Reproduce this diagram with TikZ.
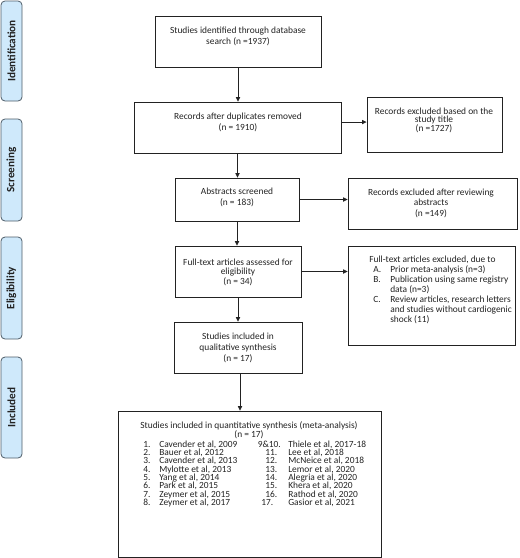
\documentclass[tikz,border=0pt]{standalone}
\usepackage{fontspec}
\setmainfont{Carlito}
\usetikzlibrary{arrows.meta,calc}
\definecolor{barfill}{HTML}{CFE9FB}
\definecolor{barline}{HTML}{4F5D68}
\definecolor{ink}{HTML}{222222}
\begin{document}
\begin{tikzpicture}[x=0.75pt,y=-0.75pt,
  box/.style={draw=ink,line width=0.6pt,inner sep=0pt},
  bar/.style={draw=barline,fill=barfill,rounded corners=3pt,line width=0.6pt,inner sep=0pt},
  bartxt/.style={rotate=90,font=\fontsize{8.4pt}{10pt}\selectfont\bfseries,text=ink,inner sep=0pt},
  txt/.style={font=\fontsize{7.05pt}{#1}\selectfont,align=center,inner sep=0pt,text=ink},
  txt/.default=8.25pt,
  ltxt/.style={font=\fontsize{7.05pt}{8.25pt}\selectfont,inner sep=0pt,anchor=base west,text=ink},
  arr/.style={draw=ink,line width=0.6pt,-{Triangle[length=3.4pt,width=3.2pt]}}
]
\useasboundingbox (0,0) rectangle (520,558);

% side bars
\node[bar,minimum width=21*0.75pt,minimum height=100*0.75pt] (id) at (11.5,51) {};
\node[bar,minimum width=21*0.75pt,minimum height=102*0.75pt] (sc) at (11.5,170) {};
\node[bar,minimum width=21*0.75pt,minimum height=102*0.75pt] (el) at (11.5,288) {};
\node[bar,minimum width=21*0.75pt,minimum height=101*0.75pt] (in) at (11.5,407.5) {};
\node[bartxt] (idt) at (id) {Identification};
\node[bartxt] (sct) at (sc) {Screening};
\node[bartxt] (elt) at (el) {Eligibility};
\node[bartxt] (int) at (in) {Included};

% boxes
\node[box,minimum width=166*0.75pt,minimum height=51*0.75pt] (b1) at (238,41.5) {};
\node[box,minimum width=207*0.75pt,minimum height=51*0.75pt] (b2) at (237.5,127.5) {};
\node[box,minimum width=135*0.75pt,minimum height=55*0.75pt] (t) at (434.5,124.5) {};
\node[box,minimum width=124*0.75pt,minimum height=43*0.75pt] (a) at (237,199.5) {};
\node[box,minimum width=169*0.75pt,minimum height=51*0.75pt] (r) at (432.5,203.5) {};
\node[box,minimum width=126*0.75pt,minimum height=51*0.75pt] (f) at (238,271.5) {};
\node[box,minimum width=167*0.75pt,minimum height=99*0.75pt] (e) at (431.5,295.5) {};
\node[box,minimum width=128*0.75pt,minimum height=51*0.75pt] (q) at (238,347.5) {};
\node[box,minimum width=263*0.75pt,minimum height=146*0.75pt] (s) at (249.5,484) {};

% box texts
\node[txt] (t1) at (238,36) {Studies identified through database\\search (n =1937)};
\node[txt] (t2) at (238,122) {Records after duplicates removed\\(n = 1910)};
\node[txt=6.4pt] (t3) at (434,120) {Records excluded based on the\\study title\\(n =1727)};
\node[txt] (t4) at (237,197.5) {Abstracts screened\\(n = 183)};
\node[txt=7.9pt] (t5) at (431,203) {Records excluded after reviewing\\abstracts\\(n =149)};
\node[txt=7.1pt] (t6) at (238,272) {Full-text articles assessed for\\eligibility\\(n = 34)};
\node[txt] (t7) at (238,347.5) {Studies included in\\qualitative synthesis\\(n = 17)};

% excluded full-text list
\node[ltxt] (e0) at (369,262) {Full-text articles excluded, due to};
\node[ltxt] (ea) at (373,272) {A.};
\node[ltxt] (eat) at (390,272) {Prior meta-analysis (n=3)};
\node[ltxt] (eb) at (373,282) {B.};
\node[ltxt] (ebt) at (390,282) {Publication using same registry};
\node[ltxt] (ebt2) at (390,292) {data (n=3)};
\node[ltxt] (ec) at (373,302.5) {C.};
\node[ltxt] (ect) at (390,302.5) {Review articles, research letters};
\node[ltxt] (ect2) at (390,312.3) {and studies without cardiogenic};
\node[ltxt] (ect3) at (390,322) {shock (11)};

% final box text
\node[txt,anchor=base] (s0) at (249,428) {Studies included in quantitative synthesis (meta-analysis)};
\node[txt,anchor=base] (s1) at (249,437) {(n = 17)};
\foreach \k/\n/\t in {0/1./{Cavender et al, 2009},1/2./{Bauer et al, 2012},2/3./{Cavender et al, 2013},3/4./{Mylotte et al, 2013},4/5./{Yang et al, 2014},5/6./{Park et al, 2015},6/7./{Zeymer et al, 2015},7/8./{Zeymer et al, 2017}}{
  \node[ltxt] (ln\k) at (143,447+8.37*\k) {\n};
  \node[ltxt] (lt\k) at (159,447+8.37*\k) {\t};
}
\foreach \k/\nx/\n/\t in {0/257.5/{9\&10.}/{Thiele et al, 2017-18},1/265/11./{Lee et al, 2018},2/265/12./{McNeice et al, 2018},3/265/13./{Lemor et al, 2020},4/265/14./{Alegria et al, 2020},5/265/15./{Khera et al, 2020},6/265/16./{Rathod et al, 2020},7/261/17./{Gasior et al, 2021}}{
  \node[ltxt] (rn\k) at (\nx,447+8.37*\k) {\n};
  \node[ltxt] (rt\k) at (288,447+8.37*\k) {\t};
}

% connectors
\draw[arr] (b1.south) -- (b1.south |- b2.north);
\coordinate (c1) at ([yshift=4.1pt]b2.east);
\draw[arr] (c1) -- (c1 -| t.west);
\draw[arr] (b2.south) -- (b2.south |- a.north);
\draw[arr] (a.east) -- (a.east -| r.west);
\draw[arr] (a.south) -- (a.south |- f.north);
\draw[arr] (f.east) -- (f.east -| e.west);
\draw[arr] (f.south) -- (f.south |- q.north);
\coordinate (c2) at ([xshift=1.5pt]q.south);
\draw[arr] (c2) -- (c2 |- s.north);
\end{tikzpicture}
\end{document}
